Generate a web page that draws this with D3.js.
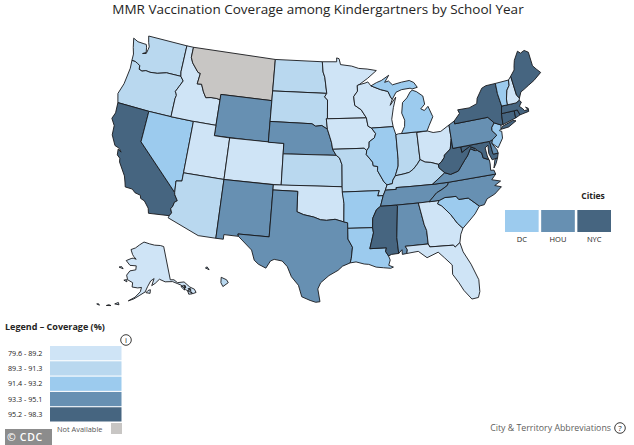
<!DOCTYPE html>
<html>
<head>
<meta charset="utf-8">
<script src="https://cdn.jsdelivr.net/npm/d3@7"></script>
<style>
  html, body { margin: 0; background: #fff; }
  text { font-family: "Open Sans", sans-serif; }
</style>
</head>
<body>
<script>
'use strict'

let width = 634,
    height = 445

// coverage per state, read off the colour bins (Montana has no data)
let stateNames = ['WA','OR','CA','NV','ID','MT','WY','UT','CO','AZ','NM','ND','SD','NE','KS','OK','TX','MN','IA','MO','AR','LA','WI','IL','IN','OH','MI','KY','TN','MS','AL','GA','FL','SC','NC','VA','WV','MD','DE','PA','NJ','NY','CT','RI','MA','VT','NH','ME','AK','HI']
let stateValues = [90.6,90.5,96.9,92.1,88.9,null,94.2,88.5,88.7,90.9,94.7,90.1,90.4,94.8,90.2,88.8,94.3,87.9,89.0,90.3,92.6,92.0,87.4,92.8,90.0,88.6,92.0,89.5,95.0,97.5,94.6,88.4,88.9,92.1,94.4,94.5,98.0,96.1,95.0,95.0,92.9,96.5,96.3,97.0,96.4,93.0,88.9,96.2,84.0,90.0]

let binLabels = ['79.6 - 89.2','89.3 - 91.3','91.4 - 93.2','93.3 - 95.1','95.2 - 98.3']
let binBreaks = [89.25,91.35,93.25,95.15]
let binColors = ['#cfe4f6','#b9d8ef','#9ccbee','#6790b2','#466580']
let naColor = '#c8c6c4'

let cityNames = ['DC','HOU','NYC']
let cityValues = [92.5,94.5,96.0]

// rough state outlines in lon/lat, one list of polygons per entry of stateNames
let stateShapes = [
  [[[-124.73,48.38],[-124,48.17],[-123.1,48.15],[-122.75,48.15],[-122.6,47.9],[-122.45,47.4],[-122.9,47.2],[-122.4,47.3],[-122.3,47.7],[-122.25,48],[-122.5,48.4],[-122.75,49],[-117.03,49],[-117.04,46.42],[-116.92,45.99],[-118.98,46],[-119.3,45.93],[-120.2,45.73],[-121.2,45.65],[-121.8,45.7],[-122.3,45.55],[-122.75,45.65],[-122.8,46],[-123.2,46.15],[-123.55,46.26],[-124.05,46.27],[-124.1,46.9],[-124.4,47.5]]],
  [[[-124.05,46.27],[-123.55,46.26],[-123.2,46.15],[-122.8,46],[-122.75,45.65],[-122.3,45.55],[-121.8,45.7],[-121.2,45.65],[-120.2,45.73],[-119.3,45.93],[-118.98,46],[-116.92,45.99],[-116.47,45.6],[-116.85,45],[-117.2,44.45],[-117.03,44.25],[-116.95,44.1],[-117.03,43.8],[-117.03,42],[-120,42],[-124.2,42],[-124.55,42.84],[-124.15,43.9],[-124.05,44.7],[-123.95,45.5]]],
  [[[-124.2,42],[-120,42],[-120,39],[-114.63,35],[-114.57,34.8],[-114.14,34.27],[-114.43,34.08],[-114.53,33.68],[-114.72,33.4],[-114.52,33.03],[-114.72,32.72],[-117.12,32.53],[-117.28,33],[-117.9,33.6],[-118.4,33.75],[-118.5,34.03],[-119.2,34.15],[-119.6,34.42],[-120.47,34.45],[-120.65,34.9],[-120.9,35.45],[-121.9,36.6],[-122,36.96],[-122.4,37.2],[-122.5,37.75],[-122.05,37.55],[-122.4,37.85],[-123,38],[-123.7,38.9],[-123.8,39.8],[-124.35,40.4],[-124.1,41]]],
  [[[-120,42],[-117.03,42],[-114.04,42],[-114.04,36.2],[-114.74,36.1],[-114.63,35],[-120,39]]],
  [[[-117.03,49],[-116.05,49],[-116.05,48],[-115.7,47.5],[-114.7,46.7],[-114.35,46.65],[-114.5,45.6],[-113.9,45.65],[-113.45,44.95],[-113,44.45],[-112.3,44.55],[-111.5,44.55],[-111.05,44.48],[-111.05,42],[-114.04,42],[-117.03,42],[-117.03,43.8],[-116.95,44.1],[-117.03,44.25],[-117.2,44.45],[-116.85,45],[-116.47,45.6],[-116.92,45.99],[-117.04,46.42]]],
  [[[-116.05,49],[-104.05,49],[-104.05,45],[-111.05,45],[-111.05,44.48],[-111.5,44.55],[-112.3,44.55],[-113,44.45],[-113.45,44.95],[-113.9,45.65],[-114.5,45.6],[-114.35,46.65],[-114.7,46.7],[-115.7,47.5],[-116.05,48]]],
  [[[-111.05,45],[-104.05,45],[-104.05,41],[-111.05,41]]],
  [[[-114.04,42],[-111.05,42],[-111.05,41],[-109.05,41],[-109.05,37],[-114.04,37]]],
  [[[-109.05,41],[-102.05,41],[-102.05,37],[-109.05,37]]],
  [[[-114.04,37],[-109.05,37],[-109.05,31.33],[-111.07,31.33],[-114.8,32.5],[-114.72,32.72],[-114.52,33.03],[-114.72,33.4],[-114.53,33.68],[-114.43,34.08],[-114.14,34.27],[-114.57,34.8],[-114.63,35],[-114.74,36.1],[-114.04,36.2]]],
  [[[-109.05,37],[-103,37],[-103,36.5],[-103.04,32],[-106.62,32],[-106.53,31.78],[-108.2,31.78],[-108.2,31.33],[-109.05,31.33]]],
  [[[-104.05,49],[-97.23,49],[-97.1,48],[-96.85,47.5],[-96.56,45.94],[-104.05,45.94]]],
  [[[-104.05,45.94],[-96.56,45.94],[-96.85,45.6],[-96.45,45.3],[-96.45,43.5],[-96.6,43.5],[-96.45,42.5],[-97.2,42.85],[-98,42.77],[-98.5,43],[-104.05,43]]],
  [[[-104.05,43],[-98.5,43],[-98,42.77],[-97.2,42.85],[-96.45,42.5],[-96.1,41.7],[-95.9,41.2],[-95.77,40.58],[-95.31,40],[-102.05,40],[-102.05,41],[-104.05,41]]],
  [[[-102.05,40],[-95.31,40],[-94.9,39.75],[-94.6,39.1],[-94.62,37],[-102.05,37]]],
  [[[-103,37],[-94.62,37],[-94.43,35.4],[-94.48,33.64],[-95.5,33.9],[-96.5,33.8],[-97.2,33.85],[-98,34.1],[-99.2,34.3],[-100,34.56],[-100,36.5],[-103,36.5]]],
  [[[-103,36.5],[-100,36.5],[-100,34.56],[-99.2,34.3],[-98,34.1],[-97.2,33.85],[-96.5,33.8],[-95.5,33.9],[-94.48,33.64],[-94.04,33.55],[-94.04,33.02],[-94.04,31.99],[-93.55,31.2],[-93.72,30.1],[-93.85,29.7],[-94.7,29.4],[-95.2,29],[-96.2,28.5],[-97.1,27.8],[-97.4,27.2],[-97.15,25.96],[-97.6,25.9],[-98.2,26.07],[-99.1,26.4],[-99.5,27.5],[-100.3,28.3],[-100.8,29.25],[-101.4,29.77],[-102.3,29.88],[-102.7,29.7],[-103.15,28.98],[-104,29.3],[-104.5,29.65],[-104.9,30.6],[-106.53,31.78],[-106.62,32],[-103.04,32]]],
  [[[-97.23,49],[-95.15,49],[-95.15,49.38],[-94.8,49.3],[-94.6,48.72],[-93,48.55],[-92,48.3],[-90.8,48.2],[-89.5,48],[-90.8,47.3],[-92.05,46.72],[-92.3,46.65],[-92.3,46.1],[-92.85,45.6],[-92.75,44.75],[-91.9,44.3],[-91.25,43.5],[-96.45,43.5],[-96.45,45.3],[-96.85,45.6],[-96.56,45.94],[-96.85,47.5],[-97.1,48]]],
  [[[-96.6,43.5],[-96.45,43.5],[-91.25,43.5],[-91.1,42.7],[-90.65,42.5],[-90.15,41.95],[-90.35,41.55],[-91.05,41.2],[-91.1,40.7],[-91.42,40.38],[-91.73,40.61],[-95.77,40.58],[-95.9,41.2],[-96.1,41.7],[-96.45,42.5]]],
  [[[-95.77,40.58],[-91.73,40.61],[-91.42,40.38],[-91.5,40],[-90.75,39.25],[-90.7,38.9],[-90.15,38.8],[-90.2,38.4],[-89.5,37.3],[-89.15,37],[-89.4,36.5],[-89.7,36],[-90.37,36],[-90.15,36.5],[-94.62,36.5],[-94.62,37],[-94.6,39.1],[-94.9,39.75],[-95.31,40]]],
  [[[-94.62,36.5],[-90.15,36.5],[-90.37,36],[-89.7,36],[-90.1,35],[-90.6,34.7],[-91.1,33.9],[-91.17,33],[-94.04,33.02],[-94.04,33.55],[-94.48,33.64],[-94.43,35.4]]],
  [[[-94.04,33.02],[-91.17,33],[-91.1,32.5],[-91.6,31],[-89.73,31],[-89.85,30.65],[-89.55,30.2],[-89.4,29.8],[-89.6,29.3],[-89.1,29.1],[-89.4,29],[-90.2,29.1],[-91,29.2],[-91.8,29.5],[-92.3,29.55],[-93.2,29.78],[-93.85,29.7],[-93.72,30.1],[-93.55,31.2],[-94.04,31.99]]],
  [[[-92.05,46.72],[-91.2,46.85],[-90.8,46.95],[-90.4,46.55],[-89.1,46.13],[-88.1,45.9],[-87.8,45.35],[-87.6,45.1],[-87.95,44.55],[-87.1,45.28],[-87.55,44.3],[-87.9,43.2],[-87.8,42.49],[-90.65,42.5],[-91.1,42.7],[-91.25,43.5],[-91.9,44.3],[-92.75,44.75],[-92.85,45.6],[-92.3,46.1],[-92.3,46.65]]],
  [[[-90.65,42.5],[-87.8,42.49],[-87.53,41.7],[-87.53,39.35],[-87.6,38.7],[-87.95,38],[-88.05,37.8],[-88.4,37.4],[-88.5,37.07],[-89.15,37],[-89.5,37.3],[-90.2,38.4],[-90.15,38.8],[-90.7,38.9],[-90.75,39.25],[-91.5,40],[-91.42,40.38],[-91.1,40.7],[-91.05,41.2],[-90.35,41.55],[-90.15,41.95]]],
  [[[-87.53,41.7],[-87.2,41.76],[-86.8,41.76],[-84.8,41.76],[-84.8,39.1],[-85.2,38.7],[-85.75,38.27],[-86.3,38],[-87,37.9],[-88.05,37.8],[-87.95,38],[-87.6,38.7],[-87.53,39.35]]],
  [[[-84.8,41.7],[-83.45,41.73],[-82.7,41.5],[-81.7,41.5],[-80.52,41.98],[-80.52,40.64],[-80.85,39.7],[-81.7,39.2],[-81.75,39],[-82.2,38.6],[-82.6,38.42],[-83.5,38.7],[-84.2,38.8],[-84.8,39.1]]],
  [[[-84.8,41.76],[-86.8,41.76],[-86.3,42.4],[-86.2,43],[-86.5,43.7],[-86.25,44.7],[-85.6,45.1],[-85.05,45.65],[-84.75,45.78],[-84.2,45.6],[-83.4,45.1],[-83.3,44.3],[-83.9,43.9],[-83.45,43.7],[-82.9,44.05],[-82.45,43],[-83.1,42.2],[-83.45,41.73]],
   [[-90.4,46.55],[-89.1,46.13],[-88.1,45.9],[-87.8,45.35],[-87.6,45.1],[-87,45.75],[-86.2,45.95],[-85,46],[-84.75,45.9],[-84,46],[-84.4,46.5],[-85,46.75],[-86.1,46.67],[-87.4,46.5],[-87.9,46.9],[-88.45,46.8],[-87.8,47.45],[-88.9,47],[-89.6,46.83]]],
  [[[-89.4,36.5],[-89.15,37],[-88.5,37.07],[-88.4,37.4],[-88.05,37.8],[-87,37.9],[-86.3,38],[-85.75,38.27],[-85.2,38.7],[-84.8,39.1],[-84.2,38.8],[-83.5,38.7],[-82.6,38.42],[-82.6,38.1],[-81.97,37.54],[-83.68,36.6],[-86.5,36.65],[-88.07,36.67],[-88.07,36.5]]],
  [[[-90.1,35],[-89.7,36],[-89.4,36.5],[-88.07,36.5],[-88.07,36.67],[-86.5,36.65],[-83.68,36.6],[-81.68,36.59],[-81.9,36.3],[-82.6,36],[-83.3,35.75],[-84.32,34.99],[-85.6,35],[-88.2,35]]],
  [[[-90.1,35],[-88.2,35],[-88.1,34.9],[-88.47,31.9],[-88.4,30.37],[-89.2,30.33],[-89.55,30.2],[-89.85,30.65],[-89.73,31],[-91.6,31],[-91.1,32.5],[-91.17,33],[-91.1,33.9],[-90.6,34.7]]],
  [[[-88.2,35],[-85.6,35],[-85.2,32.87],[-85,32.3],[-85,31],[-87.6,31],[-87.4,30.65],[-87.5,30.3],[-88,30.25],[-88,30.7],[-88.4,30.37],[-88.47,31.9],[-88.1,34.9]]],
  [[[-85.6,35],[-83.1,35],[-83.35,34.7],[-82.9,34.45],[-82,33.5],[-81.4,32.6],[-80.85,32.03],[-81.2,31.5],[-81.45,30.72],[-82.05,30.36],[-82.2,30.57],[-84.86,30.7],[-85,31],[-85,32.3],[-85.2,32.87]]],
  [[[-87.6,31],[-85,31],[-84.86,30.7],[-82.2,30.57],[-82.05,30.36],[-81.45,30.72],[-81.25,29.8],[-80.6,28.5],[-80.05,26.9],[-80.15,25.75],[-80.4,25.2],[-81.1,25.15],[-81.8,26.1],[-82.2,26.9],[-82.75,27.8],[-82.65,28.7],[-83.4,29.5],[-84,30.1],[-85.3,29.7],[-86.2,30.4],[-87.5,30.3],[-87.4,30.65]]],
  [[[-83.35,34.7],[-83.1,35],[-82.4,35.2],[-81.05,35.15],[-80.8,34.82],[-79.67,34.8],[-78.55,33.86],[-79.2,33.2],[-79.9,32.7],[-80.85,32.03],[-81.4,32.6],[-82,33.5],[-82.9,34.45]]],
  [[[-84.32,34.99],[-83.1,35],[-82.4,35.2],[-81.05,35.15],[-80.8,34.82],[-79.67,34.8],[-78.55,33.86],[-77.95,33.9],[-77.5,34.4],[-76.5,34.7],[-75.55,35.25],[-76.3,35.5],[-75.5,35.8],[-76.5,36.1],[-75.9,36.55],[-81.68,36.59],[-81.9,36.3],[-82.6,36],[-83.3,35.75]]],
  [[[-83.68,36.6],[-81.68,36.59],[-75.9,36.55],[-76,36.95],[-76.4,37],[-76.3,37.6],[-76.3,38],[-77,38.3],[-77.05,38.8],[-77.5,39.1],[-77.83,39.13],[-78.35,39.4],[-78.87,38.77],[-79.3,38.42],[-80.3,37.5],[-81.3,37.3],[-81.97,37.54]],
   [[-75.95,37.15],[-75.6,37.95],[-75.25,38.03],[-75.6,37.5]]],
  [[[-82.6,38.42],[-82.2,38.6],[-81.75,39],[-81.7,39.2],[-80.85,39.7],[-80.52,40.64],[-80.52,39.72],[-79.48,39.72],[-79.48,39.2],[-78.4,39.62],[-77.72,39.32],[-77.83,39.13],[-78.35,39.4],[-78.87,38.77],[-79.3,38.42],[-80.3,37.5],[-81.3,37.3],[-81.97,37.54],[-82.6,38.1]]],
  [[[-79.48,39.72],[-75.79,39.72],[-75.7,38.46],[-75.05,38.45],[-75.25,38.03],[-75.95,37.95],[-76.2,38.6],[-76.1,39.4],[-76.5,39.2],[-76.45,38.4],[-76.35,38.05],[-77,38.3],[-77.05,38.8],[-77.5,39.1],[-77.72,39.32],[-78.4,39.62],[-79.48,39.2]]],
  [[[-75.79,39.72],[-75.4,39.8],[-75.55,39.45],[-75.1,38.8],[-75.05,38.45],[-75.7,38.46]]],
  [[[-80.52,41.98],[-79.76,42.27],[-79.76,42],[-75.35,42],[-74.7,41.35],[-75.13,40.97],[-75.2,40.68],[-74.72,40.15],[-75.4,39.8],[-75.79,39.72],[-80.52,39.72]]],
  [[[-74.7,41.35],[-73.9,41],[-74,40.7],[-74.25,40.5],[-74,40.4],[-74.1,39.75],[-74.9,38.95],[-75.55,39.5],[-75.4,39.8],[-74.72,40.15],[-75.2,40.68],[-75.13,40.97]]],
  [[[-79.76,42.27],[-78.9,42.9],[-79.05,43.27],[-77.5,43.25],[-76.4,43.5],[-76.2,44],[-75.3,44.85],[-74.7,45],[-73.35,45],[-73.4,44],[-73.25,42.75],[-73.5,42.05],[-73.65,41],[-73.9,41],[-74.7,41.35],[-75.35,42],[-79.76,42]],
   [[-74.03,40.6],[-73.75,40.85],[-72.3,41.15],[-71.9,41.05],[-73,40.65]]],
  [[[-73.5,42.05],[-71.8,42.02],[-71.85,41.32],[-73.65,41]]],
  [[[-71.8,42.02],[-71.38,42.02],[-71.2,41.5],[-71.85,41.32]]],
  [[[-73.5,42.05],[-73.25,42.75],[-71.3,42.7],[-70.82,42.87],[-70.6,42.65],[-71,42.3],[-70.65,42],[-70.5,41.78],[-70,41.78],[-70.25,42.07],[-69.95,41.9],[-70,41.6],[-70.65,41.55],[-71.2,41.5],[-71.38,42.02],[-71.8,42.02]]],
  [[[-73.35,45],[-71.5,45.01],[-71.6,44.5],[-72.05,44.1],[-72.4,43.3],[-72.46,42.73],[-73.25,42.75],[-73.4,44]]],
  [[[-71.5,45.01],[-71.08,45.3],[-70.98,43.4],[-70.7,43.07],[-70.82,42.87],[-71.3,42.7],[-72.46,42.73],[-72.4,43.3],[-72.05,44.1],[-71.6,44.5]]],
  [[[-71.08,45.3],[-70.4,45.8],[-70.25,46.2],[-70,46.7],[-69.23,47.46],[-68.9,47.2],[-68.3,47.35],[-67.8,47.07],[-67.8,45.7],[-67.45,45.3],[-67,44.85],[-68.2,44.3],[-69.1,44],[-69.8,43.75],[-70.3,43.6],[-70.7,43.07],[-70.98,43.4]]],
  [[[-141,69.65],[-143.5,70.1],[-148,70.4],[-152,70.85],[-156.6,71.35],[-160,70.5],[-163,69.5],[-166.2,68.85],[-164.5,67.6],[-163.5,67.1],[-161.5,66.4],[-163.7,66.6],[-165,66.4],[-168,65.6],[-165,64.5],[-161,64.6],[-161,63.5],[-164.5,63],[-166,61.7],[-165,60.5],[-162,59.9],[-162,58.7],[-159,58.6],[-157,58.8],[-157.5,57.6],[-160,56],[-163,54.8],[-160.5,55.5],[-158,56.5],[-155,57.6],[-153.8,59],[-152,60.6],[-150,61.2],[-151.5,59.3],[-149.5,59.9],[-147,60.9],[-144,60],[-140,59.7],[-137.5,58.8],[-136,58.2],[-134,56.4],[-131.5,55],[-130,55],[-130.2,56],[-132,57],[-134,58.8],[-137.5,59.1],[-139,60.1],[-141,60.3]],
   [[-154.6,57.4],[-152.5,57.2],[-152.3,58.2],[-153.5,58]],
   [[-171.5,63.4],[-168.8,63.2],[-170,63.7]],
   [[-167,60.2],[-165.2,59.9],[-165.5,60.5]],
   [[-133.6,55.2],[-131.9,55],[-132.5,56.3],[-133.6,56.2]],
   [[-136.2,57.8],[-135,56.6],[-134.6,57.5],[-135,57.9]],
   [[-134.7,58],[-134.1,57.1],[-133.9,57.7]],
   [[-133.2,56.7],[-132,56],[-132,56.6]],
   [[-169,53.3],[-167,53.3],[-167.5,53.9]],
   [[-176.8,51.9],[-175.5,51.8],[-176,52.1]],
   [[-172.5,52.3],[-170.5,52.6],[-171.5,52.7]]],
  [[[-158.25,21.55],[-157.7,21.3],[-158,21.7]],
   [[-155.9,20.25],[-155.1,19.9],[-154.85,19.5],[-155.65,18.95],[-155.95,19.5]]]
]

let svg = d3.select('body').append('svg')
    .attr('width', width)
    .attr('height', height)

svg.append('text')
    .attr('x', 318)
    .attr('y', 14)
    .attr('text-anchor', 'middle')
    .attr('font-size', 13.5)
    .attr('fill', '#252423')
    .text('MMR Vaccination Coverage among Kindergartners by School Year')

let color = d3.scaleThreshold().domain(binBreaks).range(binColors)

let projection = d3.geoAlbersUsa().scale(595).translate([326, 169])
let path = d3.geoPath(projection)

// the chart keeps Hawaii closer in and smaller than geoAlbersUsa does
let hawaiiProjection = d3.geoMercator().center([-156.75, 20.5]).scale(385).translate([215.5, 275.5])
let hawaiiPath = d3.geoPath(hawaiiProjection)

// my outlines are wound either way, d3.geo wants them small side in
let fixRing = function(ring) {
    let closed = ring.concat([ring[0]])
    return d3.geoArea({type: 'Polygon', coordinates: [closed]}) > 2 * Math.PI ? closed.slice().reverse() : closed
}

let features = stateNames.map((name, i) => ({
    type: 'Feature',
    id: name,
    value: stateValues[i],
    geometry: {type: 'MultiPolygon', coordinates: stateShapes[i].map((ring) => [fixRing(ring)])}
}))

svg.append('g').selectAll('path').data(features).enter()
    .append('path')
    .attr('d', (d) => d.id === 'HI' ? hawaiiPath(d) : path(d))
    .attr('fill', (d) => d.value === null ? naColor : color(d.value))
    .attr('stroke', '#17191c')
    .attr('stroke-width', 0.9)
    .attr('stroke-linejoin', 'round')

// cities
let cityX = d3.scaleBand().domain(cityNames).range([505, 611]).paddingInner(0.07)

svg.append('text')
    .attr('x', 593)
    .attr('y', 199)
    .attr('text-anchor', 'middle')
    .attr('font-size', 8.5)
    .attr('font-weight', 700)
    .attr('fill', '#252423')
    .text('Cities')

svg.append('g').selectAll('rect').data(cityNames).enter()
    .append('rect')
    .attr('x', (d) => cityX(d))
    .attr('y', 210)
    .attr('width', cityX.bandwidth())
    .attr('height', 22)
    .attr('fill', (d, i) => color(cityValues[i]))

svg.append('g').selectAll('text').data(cityNames).enter()
    .append('text')
    .attr('x', (d) => cityX(d) + cityX.bandwidth() / 2)
    .attr('y', 242)
    .attr('text-anchor', 'middle')
    .attr('font-size', 7.5)
    .attr('fill', '#252423')
    .text((d) => d)

// coverage legend
let legendY = d3.scaleBand().domain(binLabels).range([346, 421.5]).paddingInner(0.07)

svg.append('text')
    .attr('x', 5)
    .attr('y', 330)
    .attr('font-size', 9)
    .attr('font-weight', 700)
    .attr('fill', '#252423')
    .text('Legend \u2013 Coverage (%)')

svg.append('g').selectAll('rect').data(binLabels).enter()
    .append('rect')
    .attr('x', 50)
    .attr('y', (d) => legendY(d))
    .attr('width', 71.5)
    .attr('height', legendY.bandwidth())
    .attr('fill', (d, i) => binColors[i])

svg.append('g').selectAll('text').data(binLabels).enter()
    .append('text')
    .attr('x', 8)
    .attr('y', (d) => legendY(d) + legendY.bandwidth() / 2 + 2.5)
    .attr('font-size', 7.2)
    .attr('fill', '#252423')
    .text((d) => d)

svg.append('text')
    .attr('x', 57)
    .attr('y', 432)
    .attr('font-size', 7.4)
    .attr('fill', '#555')
    .text('Not Available')

svg.append('rect')
    .attr('x', 111)
    .attr('y', 423)
    .attr('width', 11)
    .attr('height', 11)
    .attr('fill', naColor)

// the little round help icons
let icon = function(x, y, label) {
    svg.append('circle')
        .attr('cx', x).attr('cy', y).attr('r', 5.3)
        .attr('fill', 'none')
        .attr('stroke', '#252423')
        .attr('stroke-width', 0.9)
    svg.append('text')
        .attr('x', x).attr('y', y + 3)
        .attr('text-anchor', 'middle')
        .attr('font-size', 8)
        .attr('fill', '#252423')
        .text(label)
}
icon(126, 340, 'i')
icon(620, 428, '?')

svg.append('text')
    .attr('x', 611)
    .attr('y', 431)
    .attr('text-anchor', 'end')
    .attr('font-size', 8.8)
    .attr('fill', '#605e5c')
    .text('City & Territory Abbreviations')

// credit badge
svg.append('rect')
    .attr('x', 5)
    .attr('y', 429)
    .attr('width', 47)
    .attr('height', 16)
    .attr('fill', '#8c8c8c')

svg.append('text')
    .attr('x', 7)
    .attr('y', 441)
    .attr('font-size', 10.5)
    .attr('font-weight', 600)
    .attr('fill', '#fff')
    .attr('letter-spacing', 0.7)
    .text('\u00a9 CDC')
</script>
</body>
</html>
